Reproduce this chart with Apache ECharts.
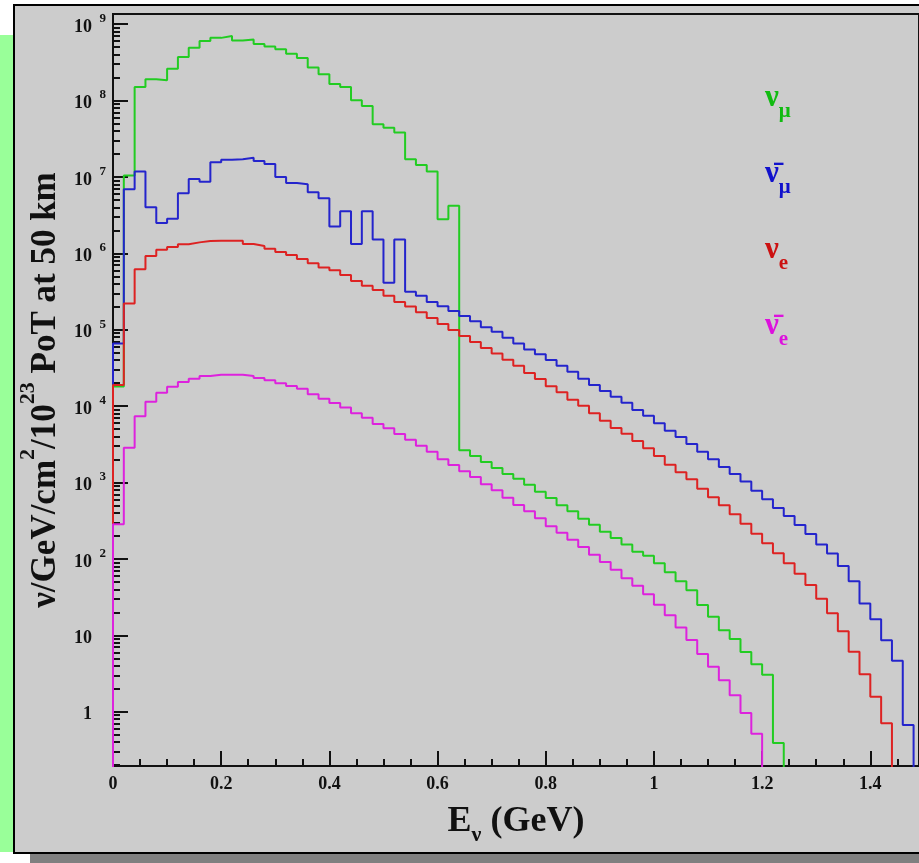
<!DOCTYPE html>
<html>
<head>
<meta charset="utf-8">
<script src="https://cdn.jsdelivr.net/npm/echarts@6/dist/echarts.min.js"></script>
<style>
  body { margin: 0; background: #fff; overflow: hidden; width: 919px; height: 863px; position: relative; }
  #strip { position: absolute; left: 0; top: 35px; width: 16px; height: 817px; background: #99ff99; }
  #shadow { position: absolute; left: 30px; top: 853px; width: 900px; height: 10px; background: #808080; }
  #pad { position: absolute; left: 13px; top: 4px; width: 920px; height: 846px; background: #cccccc; border: 2px solid #000; }
  #main { position: absolute; left: 0; top: 0; width: 919px; height: 863px; }
</style>
</head>
<body>
<div id="strip"></div>
<div id="shadow"></div>
<div id="pad"></div>
<div id="main"></div>
<script>
// flux per 0.02 GeV bin, starting at E = 0
const binWidth = 0.02;
const numu = [1.8e4, 1.04e7, 1.5e8, 1.9e8, 1.84e8, 2.6e8, 3.7e8, 4.9e8, 6.0e8, 6.6e8,
  7.0e8, 6.1e8, 6.3e8, 5.5e8, 5.1e8, 4.7e8, 4.1e8, 3.6e8, 2.7e8, 2.2e8,
  1.64e8, 1.5e8, 1.01e8, 8.5e7, 4.9e7, 4.4e7, 3.8e7, 1.7e7, 1.43e7, 1.18e7,
  2.8e6, 4.2e6, 2640, 2220, 1850, 1550, 1290, 1120, 935, 758,
  627, 503, 420, 336, 280, 227, 188, 155, 124, 110,
  87.5, 66.8, 51, 38.8, 25, 17.5, 11.7, 8.95, 6.04, 4.17,
  3.05, 0.39];
const numubar = [6.6e4, 6.9e6, 1.18e7, 4.0e6, 2.5e6, 2.84e6, 6.1e6, 9.4e6, 8.65e6, 1.55e7,
  1.68e7, 1.7e7, 1.78e7, 1.61e7, 1.47e7, 9.97e6, 8.3e6, 8.0e6, 6.3e6, 5.25e6,
  2.25e6, 3.55e6, 1.32e6, 3.55e6, 1.52e6, 4.12e5, 1.52e6, 3.14e5, 2.78e5, 2.3e5,
  2.03e5, 1.76e5, 1.51e5, 1.29e5, 1.08e5, 9.4e4, 7.86e4, 6.6e4, 5.5e4, 4.76e4,
  4.0e4, 3.38e4, 2.82e4, 2.28e4, 1.89e4, 1.58e4, 1.33e4, 1.11e4, 8.9e3, 7.5e3,
  5.95e3, 4.77e3, 3.94e3, 3.19e3, 2.53e3, 2.01e3, 1.6e3, 1.29e3, 1.03e3, 782,
  603, 464, 364, 278, 212, 155, 118, 80.7, 51, 26.2,
  16.2, 8.6, 4.65, 0.67];
const nue = [1.89e4, 2.2e5, 6.2e5, 9.2e5, 1.11e6, 1.21e6, 1.31e6, 1.39e6, 1.45e6, 1.46e6,
  1.46e6, 1.46e6, 1.32e6, 1.25e6, 1.15e6, 1.04e6, 9.5e5, 8.4e5, 7.4e5, 6.5e5,
  6.0e5, 5.2e5, 4.34e5, 3.77e5, 3.31e5, 2.79e5, 2.3e5, 2.02e5, 1.69e5, 1.42e5,
  1.19e5, 9.9e4, 8.3e4, 6.9e4, 5.76e4, 4.9e4, 4.05e4, 3.38e4, 2.71e4, 2.26e4,
  1.82e4, 1.52e4, 1.21e4, 1.01e4, 8.05e3, 6.44e3, 5.17e3, 4.35e3, 3.49e3, 2.8e3,
  2.22e3, 1.71e3, 1.36e3, 1.1e3, 826, 640, 503, 384, 289, 214,
  161, 119, 87.5, 64, 45.5, 30.1, 19.4, 11.3, 6.1, 3.09,
  1.57, 0.705];
const nuebar = [284, 2.85e3, 7.35e3, 1.14e4, 1.5e4, 1.79e4, 2.07e4, 2.28e4, 2.48e4, 2.58e4,
  2.58e4, 2.58e4, 2.48e4, 2.33e4, 2.18e4, 1.99e4, 1.83e4, 1.69e4, 1.43e4, 1.25e4,
  1.1e4, 9.6e3, 8.05e3, 7.05e3, 5.83e3, 5.12e3, 4.31e3, 3.63e3, 3.03e3, 2.53e3,
  2.01e3, 1.69e3, 1.41e3, 1.18e3, 946, 790, 632, 507, 420, 340,
  267, 220, 178, 143, 113.5, 91, 72, 56, 44.6, 34.4,
  25.1, 18.3, 12.7, 8.7, 5.7, 3.87, 2.58, 1.64, 0.96, 0.515];

const seriesNames = ['numu', 'numubar', 'nue', 'nuebar'];
const lineColors = ['#22cc22', '#2424cc', '#dd2222', '#dd22dd'];
const textColors = ['#11bb11', '#1111cc', '#cc1111', '#dd11dd'];
const legendText = {
  numu: '{n|ν}{s|μ}',
  numubar: '{n|ν\u0304}{s|μ}',
  nue: '{n|ν}{s|e}',
  nuebar: '{n|ν\u0304}{s|e}'
};

const yMin = 0.195, yMax = 1.355e9;
const below = 0.01; // below the axis floor, clipped away

// histogram outline: rise from the floor at 0, fall back at the last edge
function histogram(vals) {
  let pts = [[0, below]];
  vals.forEach((v, i) => pts.push([+(i * binWidth).toFixed(2), v]));
  pts.push([+(vals.length * binWidth).toFixed(2), below]);
  return pts;
}

let majors = [];
let minors = [];
for (let d = -1; d <= 9; d++) {
  if (d >= 0) majors.push(Math.pow(10, d));
  for (let k = 2; k <= 9; k++) {
    let v = k * Math.pow(10, d);
    if (v >= yMin && v <= yMax) minors.push(+v.toPrecision(3));
  }
}

const font = '"Liberation Serif", "DejaVu Serif", serif';
let chart = echarts.init(document.getElementById('main'));

let option = {
  animation: false,
  backgroundColor: 'transparent',
  grid: {
    left: 113, top: 14, width: 808, height: 752,
    show: true, borderColor: '#111', borderWidth: 2, backgroundColor: 'transparent'
  },
  legend: {
    orient: 'vertical',
    left: 755, top: 77,
    itemGap: 36,
    icon: 'none',
    itemWidth: 0, itemHeight: 0,
    selectedMode: false,
    data: seriesNames.map((n, i) => ({name: n, textStyle: {color: textColors[i]}})),
    formatter: name => legendText[name],
    textStyle: {
      fontFamily: font, fontWeight: 'bold',
      rich: {
        n: {fontFamily: font, fontWeight: 'bold', fontSize: 31, lineHeight: 31, verticalAlign: 'top'},
        s: {fontFamily: font, fontWeight: 'bold', fontSize: 21, lineHeight: 40, verticalAlign: 'bottom'}
      }
    }
  },
  xAxis: [{
    type: 'value', min: 0, max: 1.49, interval: 0.2,
    axisLine: {lineStyle: {color: '#111', width: 2}},
    axisTick: {inside: true, length: 15, lineStyle: {color: '#111', width: 2}},
    splitLine: {show: false},
    axisLabel: {
      margin: 9, showMaxLabel: false,
      fontFamily: font, fontWeight: 'bold', fontSize: 18, color: '#111',
      formatter: v => String(+v.toFixed(1))
    },
    name: '{a|E}{s|ν}{a| (GeV)}',
    nameLocation: 'middle', nameGap: 38,
    nameTextStyle: {
      color: '#111',
      rich: {
        a: {fontFamily: font, fontWeight: 'bold', fontSize: 36, lineHeight: 36, verticalAlign: 'top', color: '#111'},
        s: {fontFamily: font, fontWeight: 'bold', fontSize: 22, lineHeight: 42, verticalAlign: 'bottom', color: '#111'}
      }
    }
  }, {
    type: 'value', min: 0, max: 1.49, interval: 0.05, position: 'bottom',
    axisLine: {show: false},
    axisTick: {inside: true, length: 7, lineStyle: {color: '#111', width: 2}},
    axisLabel: {show: false},
    splitLine: {show: false}
  }],
  yAxis: [{
    type: 'log', logBase: 10, min: yMin, max: yMax,
    axisLine: {lineStyle: {color: '#111', width: 2}},
    axisTick: {inside: true, length: 15, customValues: majors, lineStyle: {color: '#111', width: 2}},
    splitLine: {show: false},
    axisLabel: {
      customValues: majors,
      margin: 7,
      color: '#111',
      formatter: v => {
        let e = Math.round(Math.log10(v));
        if (e === 0) return '{b|1}{e| }';
        if (e === 1) return '{b|10}{e| }';
        return '{b|10}{e|' + e + '}';
      },
      rich: {
        b: {fontFamily: font, fontWeight: 'bold', fontSize: 18, lineHeight: 24, verticalAlign: 'bottom', color: '#111'},
        e: {fontFamily: font, fontWeight: 'bold', fontSize: 13, lineHeight: 14, width: 14, align: 'right', verticalAlign: 'top', color: '#111'}
      }
    },
    name: '{a|ν/GeV/cm}{s|2}{a|/10}{s|23}{a| PoT at 50 km}',
    nameLocation: 'middle', nameGap: 46,
    nameTextStyle: {
      color: '#111',
      rich: {
        a: {fontFamily: font, fontWeight: 'bold', fontSize: 35, lineHeight: 46, verticalAlign: 'bottom', color: '#111'},
        s: {fontFamily: font, fontWeight: 'bold', fontSize: 22, lineHeight: 46, verticalAlign: 'top', color: '#111'}
      }
    }
  }, {
    type: 'log', logBase: 10, min: yMin, max: yMax, position: 'left',
    axisLine: {show: false},
    axisTick: {inside: true, length: 7, customValues: minors, lineStyle: {color: '#111', width: 2}},
    axisLabel: {show: false},
    splitLine: {show: false}
  }],
  series: [numu, numubar, nue, nuebar].map((vals, i) => ({
    name: seriesNames[i],
    type: 'line',
    step: 'end',
    showSymbol: false,
    symbol: 'none',
    clip: true,
    xAxisIndex: 0, yAxisIndex: 0,
    lineStyle: {color: lineColors[i], width: 2},
    itemStyle: {color: lineColors[i]},
    data: histogram(vals)
  }))
};

chart.setOption(option);
</script>
</body>
</html>
